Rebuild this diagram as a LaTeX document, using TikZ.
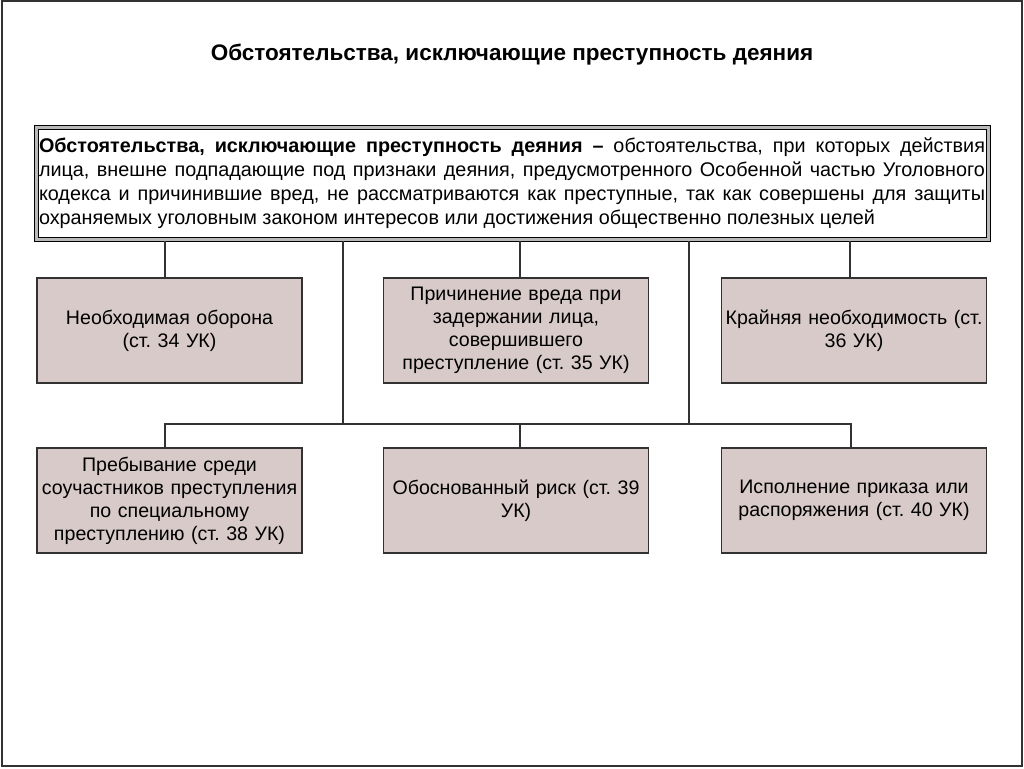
\documentclass[tikz,border=0pt]{standalone}
\usepackage{fontspec}
\setmainfont{Liberation Sans}
\frenchspacing
\definecolor{boxfill}{RGB}{216,202,201}
\definecolor{linegray}{RGB}{50,50,50}
\tikzset{
  kind/.style={draw=linegray,line width=1.3pt,fill=boxfill,minimum width=265pt,
    minimum height=105pt,text width=262pt,align=center,font=\fontsize{19.6}{23}\selectfont,inner sep=1.5pt},
  link/.style={draw=linegray,line width=1.2pt}
}
\begin{document}
\begin{tikzpicture}[x=1pt,y=-1pt]
        \useasboundingbox (0,0) rectangle (1024,768);
        \draw[linegray,line width=2pt] (1.5,1.5) rectangle (1022,766);
        \node[font=\bfseries\fontsize{22.5}{26}\selectfont] (title) at (512,55)
        {Обстоятельства, исключающие преступность деяния};
        % definition box with double frame
        \draw[black,line width=1pt,fill=gray!55] (34,125) rectangle (990,241);
        \draw[black,line width=1pt,fill=white] (38,129) rectangle (986,237);
        \node[text width=946pt,align=justify,inner sep=0pt,
        font=\fontsize{19.8}{24}\selectfont] (def) at (512,183)
        {\textbf{Обстоятельства, исключающие преступность деяния –} обстоятельства, при которых действия\linebreak
        лица, внешне подпадающие под признаки деяния, предусмотренного Особенной частью Уголовного\linebreak
        кодекса и причинившие вред, не рассматриваются как преступные, так как совершены для защиты\linebreak
        охраняемых уголовным законом интересов или достижения общественно полезных целей};
        \coordinate (defs) at (512,241);
        % first row
        \node[kind] (oborona) at (169.5,330.5) {Необходимая оборона\\(ст. 34 УК)};
        \node[kind] (zaderzh) at (516,330.5) {Причинение вреда при\\задержании лица,\\совершившего\\преступление (ст. 35 УК)};
        \node[kind] (krain) at (854,330.5) {Крайняя необходимость (ст.\\36 УК)};
        % second row
        \node[kind] (sredi) at (169.5,500.5) {Пребывание среди\\соучастников преступления\\по специальному\\преступлению (ст. 38 УК)};
        \node[kind] (risk) at (516,500.5) {Обоснованный риск (ст. 39\\УК)};
        \node[kind] (prikaz) at (854,500.5) {Исполнение приказа или\\распоряжения (ст. 40 УК)};
        % connectors
        \draw[link] (defs -| 165,0) -- (oborona.north -| 165,0);
        \draw[link] (defs -| 520,0) -- (zaderzh.north -| 520,0);
        \draw[link] (defs -| 850,0) -- (krain.north -| 850,0);
        \coordinate (busl) at (165,424);
        \coordinate (busr) at (851,424);
        \draw[link] (defs -| 343,0) -- (busl -| 343,0);
        \draw[link] (defs -| 689,0) -- (busl -| 689,0);
        \draw[link] (sredi.north -| busl) -- (busl) -- (busr) -- (prikaz.north -| busr);
        \draw[link] (busl -| 520,0) -- (risk.north -| 520,0);
\end{tikzpicture}
\end{document}
